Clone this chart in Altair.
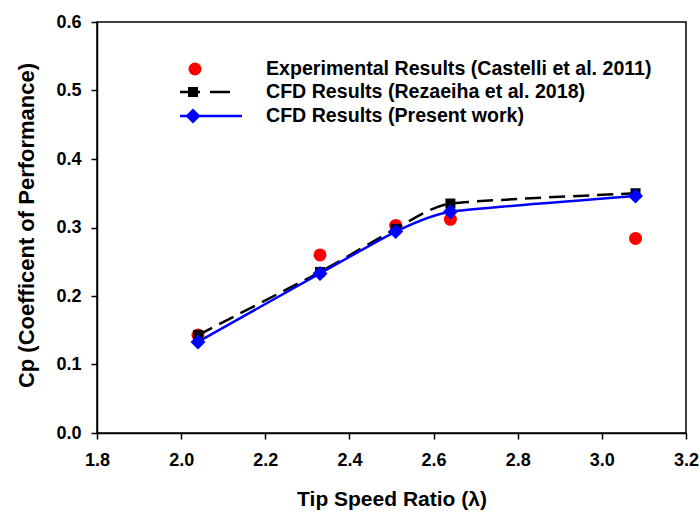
import altair as alt
import pandas as pd

# Data
tsr = [2.04, 2.33, 2.51, 2.64, 3.08]
cp_experimental = [0.143, 0.260, 0.303, 0.312, 0.284]
cp_rezaeiha = [0.143, 0.235, 0.298, 0.335, 0.350]
cp_present = [0.133, 0.233, 0.294, 0.323, 0.346]

x_ticks = [1.8, 2.0, 2.2, 2.4, 2.6, 2.8, 3.0, 3.2]
y_ticks = [0.0, 0.1, 0.2, 0.3, 0.4, 0.5, 0.6]

legend_labels = [
    "Experimental Results (Castelli et al. 2011)",
    "CFD Results (Rezaeiha et al. 2018)",
    "CFD Results (Present work)",
]

df = pd.DataFrame({
    "tsr": tsr,
    "exp": cp_experimental,
    "rez": cp_rezaeiha,
    "pres": cp_present,
})

FONT = "Liberation Sans"

x_enc = alt.X(
    "tsr:Q",
    scale=alt.Scale(domain=[1.8, 3.2], nice=False, zero=False),
    axis=alt.Axis(
        values=x_ticks, format=".1f", title="Tip Speed Ratio (λ)",
        grid=False, domainColor="black", domainWidth=1.5,
        tickColor="black", tickWidth=1.5, tickSize=6,
        labelFont=FONT, labelFontSize=18, labelFontWeight="bold",
        labelColor="black", labelPadding=12, labelFlush=False,
        titleFont=FONT, titleFontSize=21, titleFontWeight="bold",
        titleColor="black", titleBaseline="alphabetic", titleY=72,
    ),
)


def y_enc(field):
    return alt.Y(
        f"{field}:Q",
        scale=alt.Scale(domain=[0, 0.6], nice=False),
        axis=alt.Axis(
            values=y_ticks, format=".1f",
            title="Cp (Coefficent of Performance)",
            grid=False, domainColor="black", domainWidth=1.5,
            tickColor="black", tickWidth=1.5, tickSize=6,
            labelFont=FONT, labelFontSize=18, labelFontWeight="bold",
            labelColor="black", labelPadding=10, labelFlush=False,
            titleFont=FONT, titleFontSize=22, titleFontWeight="bold",
            titleColor="black", titleBaseline="alphabetic",
            titleX=-64, titleY=203, titleAngle=-90,
        ),
    )


base = alt.Chart(df)

exp_pts = base.mark_circle(color="#ff0000", size=169, opacity=1).encode(
    x=x_enc, y=y_enc("exp"))

rez_line = base.mark_line(
    color="black", strokeWidth=2.5, strokeDash=[16, 8],
    interpolate="cardinal", tension=0.5
).encode(x=x_enc, y=y_enc("rez"))
rez_pts = base.mark_point(
    shape="square", filled=True, color="black", size=100, opacity=1
).encode(x=x_enc, y=y_enc("rez"))

pres_line = base.mark_line(
    color="#0000ff", strokeWidth=2.5, interpolate="cardinal", tension=0.5
).encode(x=x_enc, y=y_enc("pres"))
pres_pts = base.mark_point(
    shape="diamond", filled=True, color="#0000ff", size=225, opacity=1
).encode(x=x_enc, y=y_enc("pres"))

# Legend (inside plot area)
one = pd.DataFrame({"k": [0]})
legend_rows_y = [47, 70, 94]
leg_texts = [
    alt.Chart(one).mark_text(
        align="left", baseline="middle", font=FONT, fontSize=19.6,
        fontWeight="bold", color="black"
    ).encode(x=alt.value(169), y=alt.value(yy), text=alt.value(lbl))
    for lbl, yy in zip(legend_labels, legend_rows_y)
]

leg_circle = alt.Chart(one).mark_circle(
    color="#ff0000", size=169, opacity=1
).encode(x=alt.value(98), y=alt.value(47))

leg_black_line = alt.Chart(one).mark_rule(
    color="black", strokeWidth=2.5, strokeDash=[20, 10]
).encode(x=alt.value(83), x2=alt.value(135), y=alt.value(70))
leg_black_sq = alt.Chart(one).mark_point(
    shape="square", filled=True, color="black", size=100, opacity=1
).encode(x=alt.value(96), y=alt.value(70))

leg_blue_line = alt.Chart(one).mark_rule(
    color="#0000ff", strokeWidth=2.5
).encode(x=alt.value(83), x2=alt.value(145), y=alt.value(94))
leg_blue_dia = alt.Chart(one).mark_point(
    shape="diamond", filled=True, color="#0000ff", size=225, opacity=1
).encode(x=alt.value(96), y=alt.value(94))

chart = alt.layer(
    exp_pts, rez_line, rez_pts, pres_line, pres_pts,
    *leg_texts, leg_circle, leg_black_line, leg_black_sq,
    leg_blue_line, leg_blue_dia,
).properties(
    width=589, height=411,
    padding={"left": 97, "top": 22, "right": 14, "bottom": 82},
    autosize=alt.AutoSizeParams(type="none"),
    background="white",
).configure_view(
    stroke="black", strokeWidth=1.5
)

chart.save("out.html", embed_options={"renderer": "svg", "actions": False})
